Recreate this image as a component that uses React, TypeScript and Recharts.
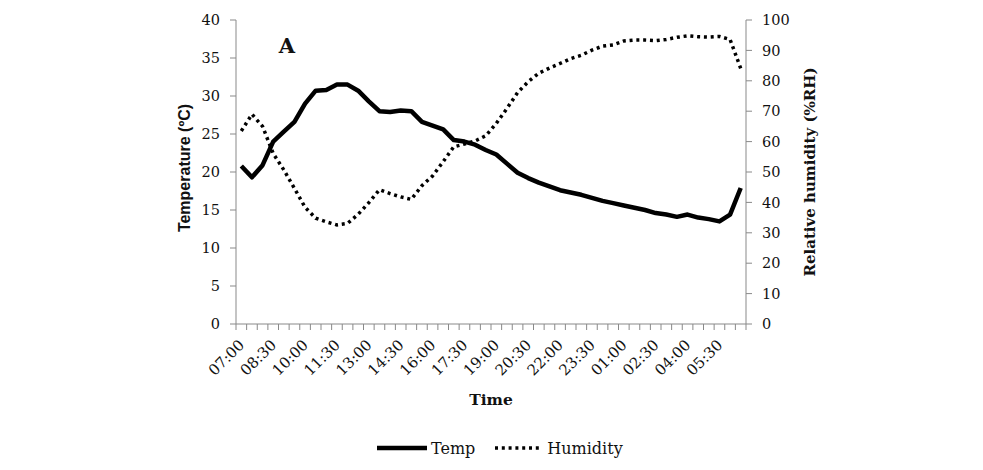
import { LineChart, Line, XAxis, YAxis } from 'recharts'

const times = [
  '07:00', '07:30', '08:00', '08:30', '09:00', '09:30', '10:00', '10:30',
  '11:00', '11:30', '12:00', '12:30', '13:00', '13:30', '14:00', '14:30',
  '15:00', '15:30', '16:00', '16:30', '17:00', '17:30', '18:00', '18:30',
  '19:00', '19:30', '20:00', '20:30', '21:00', '21:30', '22:00', '22:30',
  '23:00', '23:30', '00:00', '00:30', '01:00', '01:30', '02:00', '02:30',
  '03:00', '03:30', '04:00', '04:30', '05:00', '05:30', '06:00', '06:30',
]

const temp = [
  20.8, 19.3, 20.9, 24.0, 25.3, 26.6, 29.0, 30.7,
  30.8, 31.5, 31.5, 30.7, 29.3, 28.0, 27.9, 28.1,
  28.0, 26.6, 26.1, 25.6, 24.2, 24.0, 23.6, 22.9,
  22.3, 21.1, 19.9, 19.2, 18.6, 18.1, 17.6, 17.3,
  17.0, 16.6, 16.2, 15.9, 15.6, 15.3, 15.0, 14.6,
  14.4, 14.1, 14.4, 14.0, 13.8, 13.5, 14.4, 17.9,
]

const humidity = [
  63.5, 69.0, 65.0, 56.1, 50.7, 44.6, 38.4, 34.8,
  33.6, 32.6, 33.1, 36.1, 39.9, 44.2, 42.9, 41.8,
  41.0, 45.5, 48.7, 53.4, 58.3, 59.2, 60.2, 61.9,
  66.0, 70.9, 76.1, 79.7, 82.5, 84.2, 85.7, 87.3,
  88.4, 90.1, 91.4, 91.8, 93.1, 93.4, 93.4, 93.2,
  93.6, 94.3, 94.8, 94.5, 94.4, 94.6, 93.6, 84.1,
]

const tempTicks = [0, 5, 10, 15, 20, 25, 30, 35, 40]
const humTicks = [0, 10, 20, 30, 40, 50, 60, 70, 80, 90, 100]

const data = times.map((t, i) => ({ time: t, temp: temp[i], humidity: humidity[i] }))

const AXIS = '#898989'
const TEXT = '#111'
const SERIF = '"DejaVu Serif", serif'
const PLOT_W = 510
const BAND = PLOT_W / times.length

function TimeTick(props: any) {
  const { x, y, payload, index } = props
  const half = BAND / 2
  return (
    <g>
      <line x1={x - half} y1={y - 8} x2={x - half} y2={y - 2} stroke={AXIS} />
      {index === times.length - 1 && (
        <line x1={x + half} y1={y - 8} x2={x + half} y2={y - 2} stroke={AXIS} />
      )}
      {index % 3 === 0 && (
        <text
          transform={`translate(${x + 4},${y + 14}) rotate(-45)`}
          textAnchor="end"
          fontSize={15}
          fontFamily={SERIF}
          fill={TEXT}
        >
          {payload.value}
        </text>
      )}
    </g>
  )
}

export default function App() {
  return (
    <div style={{ position: 'absolute', left: 0, top: 0, width: 983, height: 470, background: '#fff' }}>
      <LineChart width={983} height={470} data={data} margin={{ top: 20, right: 177, bottom: 0, left: 176 }}>
        <XAxis
          dataKey="time"
          interval={0}
          tickLine={false}
          tickSize={6}
          tickMargin={2}
          height={146}
          padding={{ left: BAND / 2, right: BAND / 2 }}
          axisLine={{ stroke: AXIS }}
          tick={<TimeTick />}
        />
        <YAxis
          yAxisId="t"
          domain={[0, 40]}
          ticks={tempTicks}
          width={60}
          tickSize={6}
          tickMargin={10}
          axisLine={{ stroke: AXIS }}
          tickLine={{ stroke: AXIS }}
          tick={{ fill: TEXT, fontSize: 14.5, fontFamily: SERIF }}
        />
        <YAxis
          yAxisId="h"
          orientation="right"
          domain={[0, 100]}
          ticks={humTicks}
          width={60}
          tickSize={6}
          tickMargin={10}
          axisLine={{ stroke: AXIS }}
          tickLine={{ stroke: AXIS }}
          tick={{ fill: TEXT, fontSize: 14.5, fontFamily: SERIF }}
        />
        <Line
          yAxisId="h"
          dataKey="humidity"
          type="linear"
          stroke="#000"
          strokeWidth={3.5}
          strokeDasharray="3 3.8"
          dot={false}
          isAnimationActive={false}
        />
        <Line
          yAxisId="t"
          dataKey="temp"
          type="linear"
          stroke="#000"
          strokeWidth={4.5}
          strokeLinejoin="round"
          dot={false}
          isAnimationActive={false}
        />
      </LineChart>

      <div style={{ position: 'absolute', left: 287, top: 45, transform: 'translate(-50%,-50%)', fontFamily: SERIF, fontWeight: 'bold', fontSize: 21, color: TEXT }}>
        A
      </div>
      <div style={{ position: 'absolute', left: 185, top: 168, transform: 'translate(-50%,-50%) rotate(-90deg)', whiteSpace: 'nowrap', fontFamily: '"Liberation Sans", sans-serif', fontWeight: 'bold', fontSize: 16, color: TEXT }}>
        Temperature (ºC)
      </div>
      <div style={{ position: 'absolute', left: 810, top: 172, transform: 'translate(-50%,-50%) rotate(-90deg)', whiteSpace: 'nowrap', fontFamily: SERIF, fontWeight: 'bold', fontSize: 15, color: TEXT }}>
        Relative humidity (%RH)
      </div>
      <div style={{ position: 'absolute', left: 491, top: 399, transform: 'translate(-50%,-50%)', fontFamily: SERIF, fontWeight: 'bold', fontSize: 15.5, color: TEXT }}>
        Time
      </div>

      <div style={{ position: 'absolute', left: 377, top: 437, height: 22, display: 'flex', alignItems: 'center', fontFamily: SERIF, fontSize: 16, color: TEXT }}>
        <svg width={50} height={10}>
          <line x1={0} y1={5} x2={50} y2={5} stroke="#000" strokeWidth={4.5} />
        </svg>
        <span style={{ marginLeft: 4, marginRight: 19 }}>Temp</span>
        <svg width={48} height={10}>
          <line x1={1} y1={5} x2={48} y2={5} stroke="#000" strokeWidth={3.5} strokeDasharray="3 3.8" />
        </svg>
        <span style={{ marginLeft: 5 }}>Humidity</span>
      </div>
    </div>
  )
}
